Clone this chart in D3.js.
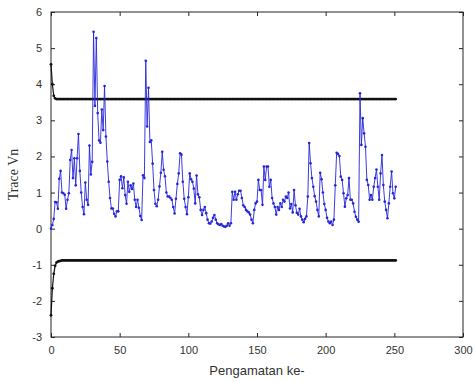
<!DOCTYPE html>
<html lang="en">
    <head>
        <meta charset="utf-8">
        <title>Trace Vn</title>
        <script type="text/javascript" src="https://cdn.jsdelivr.net/npm/d3@7"></script>
        <style type="text/css">
        body { margin: 0; background: #fff; }
        .tick text { font-family: "Liberation Sans", Arial, sans-serif; font-size: 11px; fill: #333; }
        </style>
    </head>
    <body>
        <script type="text/javascript">
            // size of the window and the axes box
            var w = 475;
            var h = 382;
            var margin = { top: 12, right: 12, bottom: 45, left: 51 };

            // tick labels
            var xTicks = [0, 50, 100, 150, 200, 250, 300];
            var yTicks = [-3, -2, -1, 0, 1, 2, 3, 4, 5, 6];

            // Trace Vn per observation (blue)
            var traceVn = [
                0.00, 0.10, 0.27, 0.74, 0.73, 0.55, 1.38, 1.60, 1.00, 0.98, 0.94, 0.55, 0.80, 0.98, 1.90, 2.18, 1.40, 1.95, 1.20, 1.95,
                2.62, 1.60, 1.00, 0.60, 0.40, 1.28, 0.80, 0.66, 2.30, 1.50, 1.85, 5.45, 3.40, 5.28, 3.20, 2.44, 2.38, 3.30, 2.73, 3.95,
                2.55, 1.86, 1.30, 0.85, 0.56, 0.56, 0.41, 0.34, 0.48, 0.48, 1.35, 1.45, 1.12, 1.42, 0.93, 0.69, 1.30, 1.02, 1.20, 1.10,
                1.25, 0.80, 0.60, 0.80, 0.58, 0.35, 0.24, 1.48, 1.40, 4.65, 2.83, 3.90, 2.40, 2.45, 1.80, 1.07, 0.69, 0.62, 0.80, 1.17,
                1.55, 2.13, 1.63, 1.45, 1.00, 0.89, 0.89, 0.85, 0.80, 0.60, 0.42, 0.83, 1.24, 1.53, 2.09, 2.05, 1.30, 0.83, 0.60, 0.40,
                0.87, 1.53, 1.37, 1.30, 1.11, 0.70, 1.47, 0.95, 0.87, 0.52, 0.38, 0.52, 0.60, 0.43, 0.25, 0.15, 0.14, 0.20, 0.30, 0.38,
                0.25, 0.15, 0.12, 0.10, 0.13, 0.08, 0.06, 0.05, 0.08, 0.15, 0.08, 0.15, 1.02, 0.80, 1.02, 0.80, 0.95, 1.05, 1.05, 0.85,
                0.65, 0.60, 0.52, 0.48, 0.45, 0.39, 0.25, 0.15, 0.52, 0.70, 0.75, 1.35, 1.07, 1.07, 0.66, 1.72, 1.35, 1.72, 1.72, 1.16,
                1.35, 0.85, 0.70, 0.60, 0.39, 0.60, 0.52, 0.70, 0.60, 0.80, 0.75, 0.89, 0.85, 1.00, 0.56, 0.68, 0.45, 1.07, 0.65, 0.44,
                0.39, 0.55, 0.34, 0.25, 0.18, 0.27, 0.34, 0.89, 2.37, 1.81, 1.40, 1.16, 0.90, 0.75, 0.52, 0.34, 1.55, 1.37, 1.00, 0.68,
                0.52, 0.30, 0.20, 0.15, 0.20, 0.10, 0.25, 1.20, 2.10, 2.07, 2.01, 1.44, 1.35, 0.98, 0.61, 0.84, 0.93, 1.40, 0.80, 0.80,
                0.70, 0.47, 0.33, 0.25, 0.19, 3.75, 2.32, 3.06, 2.64, 2.27, 1.35, 1.21, 0.80, 0.93, 0.80, 1.16, 1.40, 1.64, 1.16, 0.80,
                1.53, 2.04, 1.21, 0.75, 0.52, 0.29, 0.70, 1.16, 1.58, 0.98, 0.84, 1.16
            ];

            // upper limit (black)
            var upperLimit = [
                4.55, 4.00, 3.68, 3.61, 3.59, 3.59, 3.59, 3.59, 3.59, 3.59, 3.59, 3.59, 3.59, 3.59, 3.59, 3.59, 3.59, 3.59, 3.59, 3.59,
                3.59, 3.59, 3.59, 3.59, 3.59, 3.59, 3.59, 3.59, 3.59, 3.59, 3.59, 3.59, 3.59, 3.59, 3.59, 3.59, 3.59, 3.59, 3.59, 3.59,
                3.59, 3.59, 3.59, 3.59, 3.59, 3.59, 3.59, 3.59, 3.59, 3.59, 3.59, 3.59, 3.59, 3.59, 3.59, 3.59, 3.59, 3.59, 3.59, 3.59,
                3.59, 3.59, 3.59, 3.59, 3.59, 3.59, 3.59, 3.59, 3.59, 3.59, 3.59, 3.59, 3.59, 3.59, 3.59, 3.59, 3.59, 3.59, 3.59, 3.59,
                3.59, 3.59, 3.59, 3.59, 3.59, 3.59, 3.59, 3.59, 3.59, 3.59, 3.59, 3.59, 3.59, 3.59, 3.59, 3.59, 3.59, 3.59, 3.59, 3.59,
                3.59, 3.59, 3.59, 3.59, 3.59, 3.59, 3.59, 3.59, 3.59, 3.59, 3.59, 3.59, 3.59, 3.59, 3.59, 3.59, 3.59, 3.59, 3.59, 3.59,
                3.59, 3.59, 3.59, 3.59, 3.59, 3.59, 3.59, 3.59, 3.59, 3.59, 3.59, 3.59, 3.59, 3.59, 3.59, 3.59, 3.59, 3.59, 3.59, 3.59,
                3.59, 3.59, 3.59, 3.59, 3.59, 3.59, 3.59, 3.59, 3.59, 3.59, 3.59, 3.59, 3.59, 3.59, 3.59, 3.59, 3.59, 3.59, 3.59, 3.59,
                3.59, 3.59, 3.59, 3.59, 3.59, 3.59, 3.59, 3.59, 3.59, 3.59, 3.59, 3.59, 3.59, 3.59, 3.59, 3.59, 3.59, 3.59, 3.59, 3.59,
                3.59, 3.59, 3.59, 3.59, 3.59, 3.59, 3.59, 3.59, 3.59, 3.59, 3.59, 3.59, 3.59, 3.59, 3.59, 3.59, 3.59, 3.59, 3.59, 3.59,
                3.59, 3.59, 3.59, 3.59, 3.59, 3.59, 3.59, 3.59, 3.59, 3.59, 3.59, 3.59, 3.59, 3.59, 3.59, 3.59, 3.59, 3.59, 3.59, 3.59,
                3.59, 3.59, 3.59, 3.59, 3.59, 3.59, 3.59, 3.59, 3.59, 3.59, 3.59, 3.59, 3.59, 3.59, 3.59, 3.59, 3.59, 3.59, 3.59, 3.59,
                3.59, 3.59, 3.59, 3.59, 3.59, 3.59, 3.59, 3.59, 3.59, 3.59, 3.59, 3.59
            ];

            // lower limit (black)
            var lowerLimit = [
                -2.40, -1.65, -1.25, -1.03, -0.94, -0.91, -0.90, -0.89, -0.88, -0.88, -0.88, -0.88, -0.88, -0.88, -0.88, -0.88, -0.88, -0.88, -0.88, -0.88,
                -0.88, -0.88, -0.88, -0.88, -0.88, -0.88, -0.88, -0.88, -0.88, -0.88, -0.88, -0.88, -0.88, -0.88, -0.88, -0.88, -0.88, -0.88, -0.88, -0.88,
                -0.88, -0.88, -0.88, -0.88, -0.88, -0.88, -0.88, -0.88, -0.88, -0.88, -0.88, -0.88, -0.88, -0.88, -0.88, -0.88, -0.88, -0.88, -0.88, -0.88,
                -0.88, -0.88, -0.88, -0.88, -0.88, -0.88, -0.88, -0.88, -0.88, -0.88, -0.88, -0.88, -0.88, -0.88, -0.88, -0.88, -0.88, -0.88, -0.88, -0.88,
                -0.88, -0.88, -0.88, -0.88, -0.88, -0.88, -0.88, -0.88, -0.88, -0.88, -0.88, -0.88, -0.88, -0.88, -0.88, -0.88, -0.88, -0.88, -0.88, -0.88,
                -0.88, -0.88, -0.88, -0.88, -0.88, -0.88, -0.88, -0.88, -0.88, -0.88, -0.88, -0.88, -0.88, -0.88, -0.88, -0.88, -0.88, -0.88, -0.88, -0.88,
                -0.88, -0.88, -0.88, -0.88, -0.88, -0.88, -0.88, -0.88, -0.88, -0.88, -0.88, -0.88, -0.88, -0.88, -0.88, -0.88, -0.88, -0.88, -0.88, -0.88,
                -0.88, -0.88, -0.88, -0.88, -0.88, -0.88, -0.88, -0.88, -0.88, -0.88, -0.88, -0.88, -0.88, -0.88, -0.88, -0.88, -0.88, -0.88, -0.88, -0.88,
                -0.88, -0.88, -0.88, -0.88, -0.88, -0.88, -0.88, -0.88, -0.88, -0.88, -0.88, -0.88, -0.88, -0.88, -0.88, -0.88, -0.88, -0.88, -0.88, -0.88,
                -0.88, -0.88, -0.88, -0.88, -0.88, -0.88, -0.88, -0.88, -0.88, -0.88, -0.88, -0.88, -0.88, -0.88, -0.88, -0.88, -0.88, -0.88, -0.88, -0.88,
                -0.88, -0.88, -0.88, -0.88, -0.88, -0.88, -0.88, -0.88, -0.88, -0.88, -0.88, -0.88, -0.88, -0.88, -0.88, -0.88, -0.88, -0.88, -0.88, -0.88,
                -0.88, -0.88, -0.88, -0.88, -0.88, -0.88, -0.88, -0.88, -0.88, -0.88, -0.88, -0.88, -0.88, -0.88, -0.88, -0.88, -0.88, -0.88, -0.88, -0.88,
                -0.88, -0.88, -0.88, -0.88, -0.88, -0.88, -0.88, -0.88, -0.88, -0.88, -0.88, -0.88
            ];

            var svg = d3.select("body")
                        .append("svg")
                        .attr("width", w)
                        .attr("height", h);

            var x = d3.scaleLinear().domain([0, 300]).range([margin.left, w - margin.right]);
            var y = d3.scaleLinear().domain([-3, 6]).range([h - margin.bottom, margin.top]);

            // plain hyphen for negatives, as in the original figure
            var plain = function(d) { return String(d); };

            // axes, ticks pointing inward like matlab
            var axisColor = "#262626";
            function styleAxis(g) {
                g.select(".domain").remove();
                g.selectAll(".tick line").attr("stroke", axisColor);
            }
            svg.append("g")
                .attr("transform", "translate(0," + y(-3) + ")")
                .call(d3.axisBottom(x).tickValues(xTicks).tickFormat(plain).tickSizeInner(-4).tickPadding(9))
                .call(styleAxis);
            svg.append("g")
                .attr("transform", "translate(0," + y(6) + ")")
                .call(d3.axisTop(x).tickValues(xTicks).tickSizeInner(-4).tickFormat(""))
                .call(styleAxis);
            svg.append("g")
                .attr("transform", "translate(" + x(0) + ",0)")
                .call(d3.axisLeft(y).tickValues(yTicks).tickFormat(plain).tickSizeInner(-4).tickPadding(9))
                .call(styleAxis);
            svg.append("g")
                .attr("transform", "translate(" + x(300) + ",0)")
                .call(d3.axisRight(y).tickValues(yTicks).tickSizeInner(-4).tickFormat(""))
                .call(styleAxis);

            // box
            svg.append("rect")
                .attr("x", x(0))
                .attr("y", y(6))
                .attr("width", x(300) - x(0))
                .attr("height", y(-3) - y(6))
                .attr("fill", "none")
                .attr("stroke", axisColor)
                .attr("stroke-width", 1);

            var line = d3.line()
                .x(function(d, i) { return x(i); })
                .y(function(d) { return y(d); });

            // draw one series: line plus small dot markers
            function drawSeries(data, color, lw, r) {
                svg.append("path")
                    .datum(data)
                    .attr("fill", "none")
                    .attr("stroke", color)
                    .attr("stroke-width", lw)
                    .attr("d", line);
                svg.append("g")
                    .selectAll("circle")
                    .data(data)
                    .enter()
                    .append("circle")
                    .attr("cx", function(d, i) { return x(i); })
                    .attr("cy", function(d) { return y(d); })
                    .attr("r", r)
                    .attr("fill", color);
            }

            drawSeries(upperLimit, "#111", 1.2, 1.4);
            drawSeries(lowerLimit, "#111", 1.2, 1.4);
            drawSeries(traceVn, "#2626d9", 0.9, 1.3);

            // axis labels
            svg.append("text")
                .text("Pengamatan ke-")
                .attr("x", (x(0) + x(300)) / 2)
                .attr("y", 375)
                .attr("text-anchor", "middle")
                .attr("font-family", "Liberation Sans, Arial, sans-serif")
                .attr("font-size", "13px")
                .attr("fill", "#333");

            svg.append("text")
                .text("Trace Vn")
                .attr("transform", "translate(18," + ((y(-3) + y(6)) / 2) + ") rotate(-90)")
                .attr("text-anchor", "middle")
                .attr("font-family", "Liberation Serif, Times New Roman, serif")
                .attr("font-size", "14px")
                .attr("fill", "#333");
        </script>
    </body>
</html>
